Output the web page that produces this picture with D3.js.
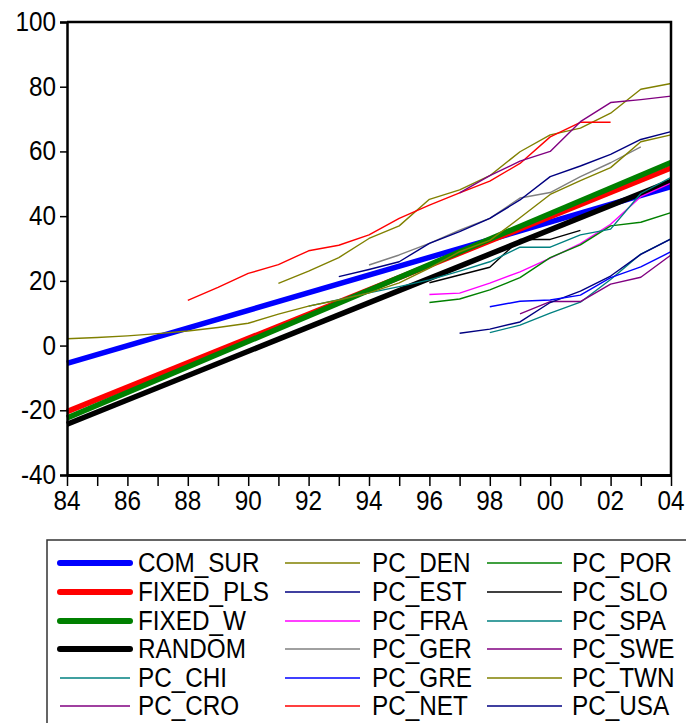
<!DOCTYPE html>
<html>
<head>
<meta charset="utf-8">
<script src="https://cdn.jsdelivr.net/npm/d3@7/dist/d3.min.js"></script>
<style>
  body { margin: 0; background: #fff; }
  text { font-family: "Liberation Sans", Arial, sans-serif; fill: #000; }
</style>
</head>
<body>
<div id="chart"></div>
<script>
// Fitted lines: value at first and last year
const fitYears = [1984, 2004];
const comSur = [-5.5, 49.1];
const fixedPls = [-20.4, 54.9];
const fixedW = [-22.4, 56.6];
const random = [-24.3, 50.8];

// Country series: one value a year from the start year
const pcChiStart = 1998, pcChi = [4, 6.3, 10, 13.4, 20.4, 28.3, 33];
const pcCroStart = 1999, pcCro = [9.8, 13.6, 13.6, 19, 21.1, 28];
const pcDenStart = 1991, pcDen = [19.2, 23, 27.2, 33.1, 37, 45.2, 48.1, 52.5, 59.9, 65.1, 67.2, 71.8, 79.2, 81];
const pcEstStart = 1997, pcEst = [3.8, 5.1, 7.3, 13.3, 16.8, 21.5, 28.2, 33];
const pcFraStart = 1996, pcFra = [15.8, 16.2, 19.3, 22.8, 27, 31.5, 37.5, 46, 50.2];
const pcGerStart = 1994, pcGer = [24.9, 28, 31.6, 35.7, 39.3, 45.6, 47.3, 52.2, 56.5, 61.4];
const pcGreStart = 1998, pcGre = [12, 13.7, 14.1, 15.6, 21, 24.3, 29];
const pcNetStart = 1988, pcNet = [14, 18, 22.3, 25, 29.3, 31, 34.2, 39.3, 43.4, 47.2, 50.8, 56.3, 64.5, 69, 69];
const pcPorStart = 1996, pcPor = [13.3, 14.4, 17.2, 21, 27.2, 31.1, 37, 38.1, 41.1];
const pcSloStart = 1996, pcSlo = [19.4, 21.8, 24.2, 32.8, 32.8, 35.6];
const pcSpaStart = 1992, pcSpa = [12.2, 14.2, 16.3, 18.2, 20.3, 23, 25.9, 30.4, 30.4, 34.2, 36, 47, 52];
const pcSweStart = 1997, pcSwe = [47.2, 52.5, 57, 60, 69.2, 75.1, 76, 77.1];
const pcTwnStart = 1984, pcTwn = [2.1, 2.5, 3.0, 3.7, 4.5, 5.6, 6.9, 9.7, 12.2, 14.1, 16.3, 19.4, 23.9, 29, 32.5, 39.5, 46.7, 51, 55, 63, 65.1];
const pcUsaStart = 1993, pcUsa = [21.3, 23.5, 25.9, 31.6, 35.2, 39.3, 45, 52.2, 55.5, 59.1, 63.7, 66.1];

// Axis ticks
const yTicks = [-40, -20, 0, 20, 40, 60, 80, 100];
const xTickYears = [1984, 1986, 1988, 1990, 1992, 1994, 1996, 1998, 2000, 2002, 2004];
const xTickLabels = ["84", "86", "88", "90", "92", "94", "96", "98", "00", "02", "04"];

// Build the series table
function yearly(start, values) {
  return values.map((v, i) => ({ year: start + i, value: v }));
}
function fitted(values) {
  return values.map((v, i) => ({ year: fitYears[i], value: v }));
}
const thick = 5.5, thin = 1.4;
const series = [
  { name: "COM_SUR",   data: fitted(comSur),   color: "#0000ff", width: thick },
  { name: "FIXED_PLS", data: fitted(fixedPls), color: "#ff0000", width: thick },
  { name: "FIXED_W",   data: fitted(fixedW),   color: "#008000", width: thick },
  { name: "RANDOM",    data: fitted(random),   color: "#000000", width: thick },
  { name: "PC_CHI", data: yearly(pcChiStart, pcChi), color: "#008080", width: thin },
  { name: "PC_CRO", data: yearly(pcCroStart, pcCro), color: "#800080", width: thin },
  { name: "PC_DEN", data: yearly(pcDenStart, pcDen), color: "#808000", width: thin },
  { name: "PC_EST", data: yearly(pcEstStart, pcEst), color: "#000080", width: thin },
  { name: "PC_FRA", data: yearly(pcFraStart, pcFra), color: "#ff00ff", width: thin },
  { name: "PC_GER", data: yearly(pcGerStart, pcGer), color: "#808080", width: thin },
  { name: "PC_GRE", data: yearly(pcGreStart, pcGre), color: "#0000ff", width: thin },
  { name: "PC_NET", data: yearly(pcNetStart, pcNet), color: "#ff0000", width: thin },
  { name: "PC_POR", data: yearly(pcPorStart, pcPor), color: "#008000", width: thin },
  { name: "PC_SLO", data: yearly(pcSloStart, pcSlo), color: "#000000", width: thin },
  { name: "PC_SPA", data: yearly(pcSpaStart, pcSpa), color: "#008080", width: thin },
  { name: "PC_SWE", data: yearly(pcSweStart, pcSwe), color: "#800080", width: thin },
  { name: "PC_TWN", data: yearly(pcTwnStart, pcTwn), color: "#808000", width: thin },
  { name: "PC_USA", data: yearly(pcUsaStart, pcUsa), color: "#000080", width: thin }
];

const width = 686, height = 723;
const plot = { left: 67, right: 671, top: 22, bottom: 475 };
const fontSize = 27, squeeze = 0.9;

const svg = d3.select("#chart").append("svg")
  .attr("width", width)
  .attr("height", height);

const x = d3.scaleLinear().domain([1984, 2004]).range([plot.left, plot.right]);
const y = d3.scaleLinear().domain([-40, 100]).range([plot.bottom, plot.top]);

// squeezed text helper (the reference font is narrow)
function label(g, tx, ty, str, anchor) {
  return g.append("text")
    .attr("transform", `translate(${tx},${ty}) scale(${squeeze},1)`)
    .attr("text-anchor", anchor)
    .style("font-size", fontSize + "px")
    .text(str);
}

// Lines
const line = d3.line().x(d => x(d.year)).y(d => y(d.value));
svg.append("g")
  .selectAll("path")
  .data(series)
  .join("path")
    .attr("d", d => line(d.data))
    .attr("fill", "none")
    .attr("stroke", d => d.color)
    .attr("stroke-width", d => d.width)
    .attr("stroke-linejoin", "round");

// Frame: top and right
svg.append("path")
  .attr("d", `M${plot.left},${plot.top}H${plot.right}V${plot.bottom}`)
  .attr("fill", "none")
  .attr("stroke", "#000")
  .attr("stroke-width", 2.5);

// Y axis
const yAxis = svg.append("g")
  .attr("transform", `translate(${plot.left},0)`)
  .call(d3.axisLeft(y).tickValues(yTicks).tickSize(7).tickFormat(""));
yAxis.select(".domain").attr("stroke-width", 2.5);
yAxis.selectAll(".tick line").attr("stroke-width", 1.5);
yTicks.forEach(t => label(svg, 56, y(t) + 9, String(t), "end"));

// X axis, a tick every year
const xAxis = svg.append("g")
  .attr("transform", `translate(0,${plot.bottom})`)
  .call(d3.axisBottom(x).tickValues(d3.range(1984, 2005)).tickSize(11).tickSizeOuter(0).tickFormat(""));
xAxis.select(".domain").attr("stroke-width", 3);
xAxis.selectAll(".tick line").attr("stroke-width", 1.5);
xTickYears.forEach((t, i) => label(svg, x(t), 510, xTickLabels[i], "middle"));

// Legend
const legend = svg.append("g");
legend.append("path")
  .attr("d", `M${width},540H47V${height}`)
  .attr("fill", "none")
  .attr("stroke", "#333")
  .attr("stroke-width", 1.5);

const colLine = [[60, 130], [285, 360], [487, 562]];
const colText = [138, 372, 572];
const rowY = [563, 592, 621, 649, 678, 706];
series.forEach((s, i) => {
  const col = Math.floor(i / 6), row = i % 6;
  const ly = rowY[row];
  legend.append("line")
    .attr("x1", colLine[col][0]).attr("x2", colLine[col][1])
    .attr("y1", ly).attr("y2", ly)
    .attr("stroke", s.color)
    .attr("stroke-width", s.width === thick ? 6 : thin)
    .attr("stroke-linecap", s.width === thick ? "round" : "butt");
  label(legend, colText[col], ly + 9, s.name, "start");
});
</script>
</body>
</html>
